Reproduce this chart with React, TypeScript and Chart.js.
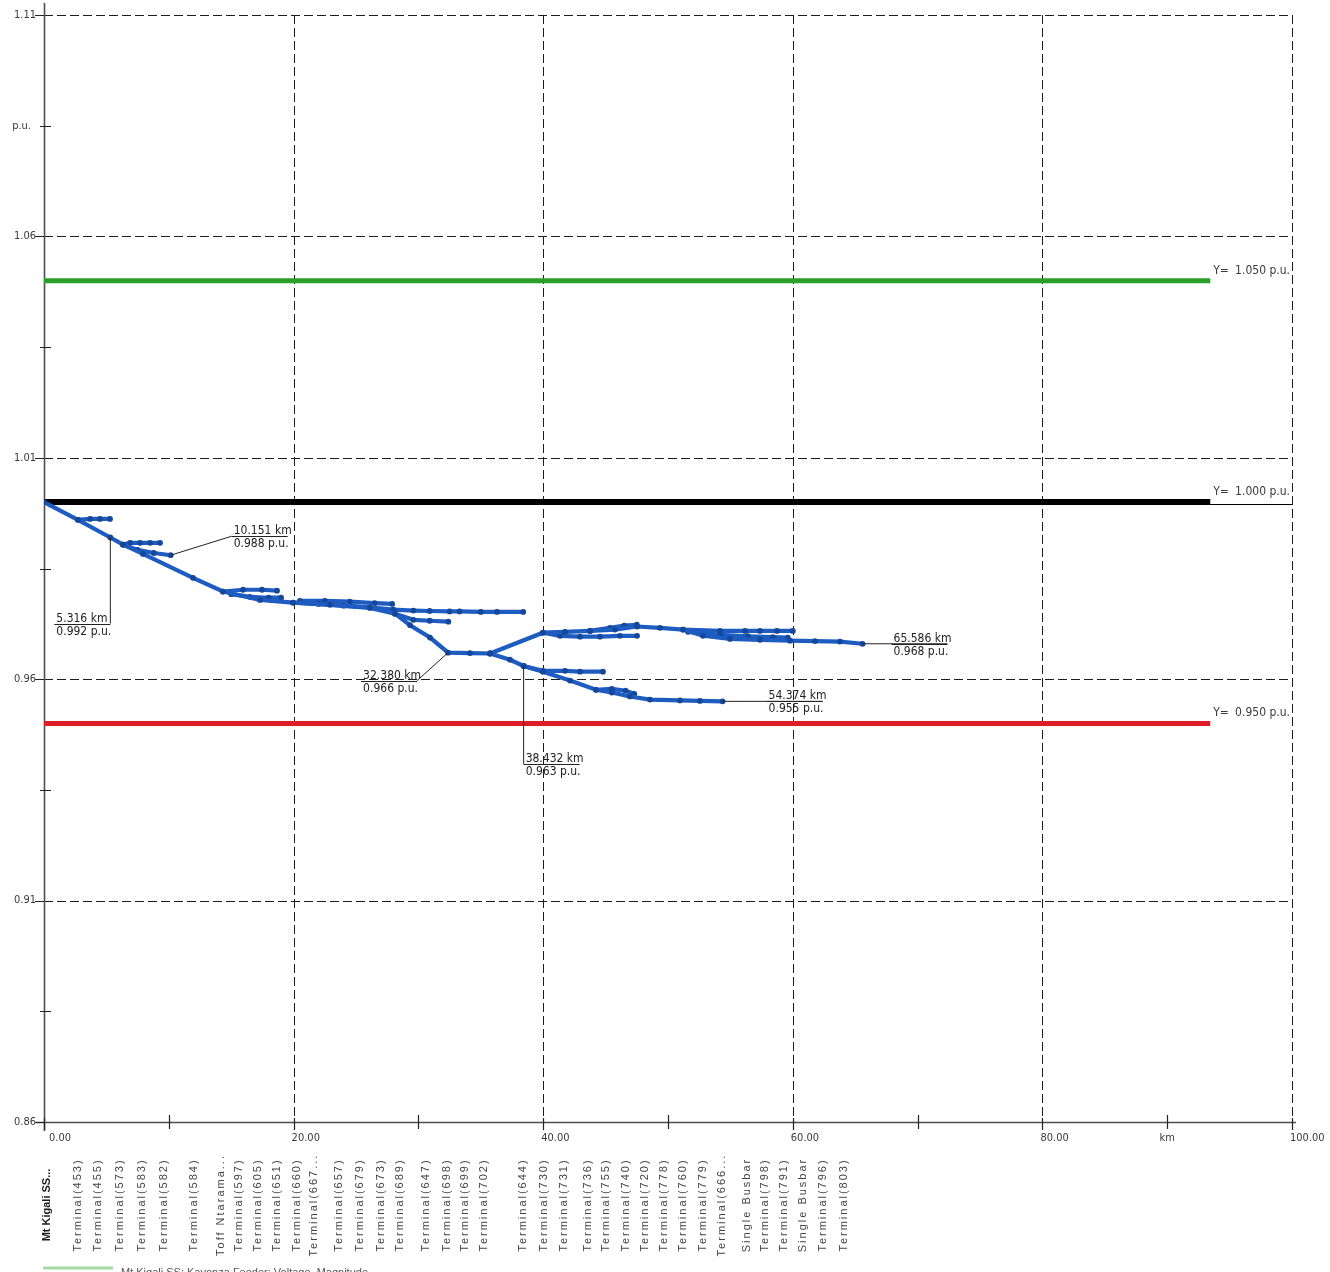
import React, { useEffect, useRef } from 'react';
import { Chart, registerables } from 'chart.js';

Chart.register(...registerables);

type Pt = [number, number];

const W = 1330;
const H = 1272;

// Axis ranges and ticks
const xMin = 0;
const xMax = 100;
const yMin = 0.86;
const yMax = 1.11;
const xMajorTicks = [0, 20, 40, 60, 80, 100];
const xMinorTicks = [10, 30, 50, 70, 90];
const xUnitAt = 90;
const yMajorTicks = [0.86, 0.91, 0.96, 1.01, 1.06, 1.11];
const yMinorTicks = [0.885, 0.935, 0.985, 1.035, 1.085];
const yUnitAt = 1.085;

// Voltage limits drawn as horizontal reference lines
const limitValues = [1.05, 1.0, 0.95];
const limitColors = ['#2aa02a', '#000000', '#dd1e2a'];
const limitWidths = [5, 6, 5];
const limitEndKm = 93.45;

// Feeder sections: [distance from Mt Kigali SS (km), voltage magnitude (p.u.)]
const sectionMain: Pt[] = [
  [0, 1.0], [2.72, 0.996], [5.316, 0.992], [6.33, 0.9904], [7.93, 0.9883],
  [11.94, 0.9829], [14.34, 0.9798], [17.31, 0.9779], [19.95, 0.9773],
  [22.92, 0.9768], [26.12, 0.9761], [28.12, 0.9748], [29.33, 0.9722],
  [30.93, 0.9694], [32.38, 0.966], [34.13, 0.9659], [35.74, 0.9658],
];
const sectionEast: Pt[] = [
  [35.74, 0.9658], [39.98, 0.9705], [41.75, 0.9707], [43.75, 0.9709],
  [45.75, 0.9712], [47.52, 0.9719], [49.36, 0.9716], [51.2, 0.9712],
  [52.8, 0.9698], [54.97, 0.9691], [57.37, 0.9689], [59.78, 0.9687],
  [61.78, 0.9686], [63.78, 0.9685], [65.586, 0.968],
];
const sectionEastSpur: Pt[] = [
  [51.2, 0.9712], [54.17, 0.9709], [56.17, 0.9709], [57.37, 0.9709],
  [58.73, 0.9709], [60.0, 0.9709],
];
const sectionEastMid: Pt[] = [
  [51.6, 0.9707], [54.2, 0.97], [56.4, 0.9697], [58.4, 0.9695], [59.6, 0.9694],
];
const sectionEastLow: Pt[] = [
  [39.98, 0.9705], [41.35, 0.9698], [42.95, 0.9696], [44.55, 0.9696],
  [46.15, 0.9698], [47.52, 0.9698],
];
const sectionEastHigh: Pt[] = [
  [43.75, 0.9709], [45.35, 0.9716], [46.5, 0.9721], [47.5, 0.9723],
];
const sectionSouth: Pt[] = [
  [35.74, 0.9658], [37.34, 0.9644], [38.432, 0.963], [39.98, 0.9617],
  [42.15, 0.9597], [44.23, 0.9576], [45.5, 0.957], [46.95, 0.9561],
  [48.56, 0.9554], [50.96, 0.9552], [52.56, 0.9551], [54.374, 0.955],
];
const sectionSouthSpur: Pt[] = [
  [38.432, 0.963], [39.98, 0.9619], [41.75, 0.9619], [42.95, 0.9617], [44.79, 0.9617],
];
const sectionSouthShort: Pt[] = [
  [44.23, 0.9576], [45.5, 0.9578], [46.6, 0.9574], [47.3, 0.9567],
];
const spurStart: Pt[] = [[2.72, 0.996], [3.7, 0.9962], [4.49, 0.9962], [5.29, 0.9962]];
const spurB: Pt[] = [[6.33, 0.9904], [6.9, 0.9908], [7.7, 0.9908], [8.5, 0.9908], [9.3, 0.9908]];
const spurC: Pt[] = [[6.33, 0.9904], [7.5, 0.9892], [8.8, 0.9885], [10.151, 0.988]];
const spurD: Pt[] = [[14.34, 0.9798], [15.95, 0.9802], [17.47, 0.9802], [18.67, 0.98]];
const spurE: Pt[] = [[15.0, 0.9792], [16.5, 0.9786], [18.0, 0.9784], [19.0, 0.9784]];
const spurF: Pt[] = [
  [19.95, 0.9773], [22.0, 0.977], [24.0, 0.9766], [26.1, 0.9762], [28.0, 0.9757],
  [29.6, 0.9755], [30.9, 0.9754], [32.5, 0.9753], [33.3, 0.9753], [35.0, 0.9752],
  [36.3, 0.9752], [38.4, 0.9752],
];
const spurG: Pt[] = [[28.12, 0.9748], [29.6, 0.9734], [30.9, 0.9732], [32.4, 0.973]];
const spurK: Pt[] = [[20.5, 0.9777], [22.5, 0.9777], [24.5, 0.9775], [26.5, 0.9772], [27.9, 0.977]];

const sections: Pt[][] = [
  sectionMain, sectionEast, sectionEastSpur, sectionEastMid, sectionEastLow, sectionEastHigh,
  sectionSouth, sectionSouthSpur, sectionSouthShort,
  spurStart, spurB, spurC, spurD, spurE, spurF, spurG, spurK,
];

// Marked busbars (distance km, voltage p.u.)
const markedKm = [5.316, 10.151, 32.38, 38.432, 54.374, 65.586];
const markedPu = [0.992, 0.988, 0.966, 0.963, 0.955, 0.968];

// Busbar names along the distance axis
const nodeNames = [
  'Mt Kigali SS...', 'Terminal(453)', 'Terminal(455)', 'Terminal(573)', 'Terminal(583)',
  'Terminal(582)', 'Terminal(584)', 'Toff Ntarama...', 'Terminal(597)', 'Terminal(605)',
  'Terminal(651)', 'Terminal(660)', 'Terminal(667...', 'Terminal(657)', 'Terminal(679)',
  'Terminal(673)', 'Terminal(689)', 'Terminal(647)', 'Terminal(698)', 'Terminal(699)',
  'Terminal(702)', 'Terminal(644)', 'Terminal(730)', 'Terminal(731)', 'Terminal(736)',
  'Terminal(755)', 'Terminal(740)', 'Terminal(720)', 'Terminal(778)', 'Terminal(760)',
  'Terminal(779)', 'Terminal(666...', 'Single Busbar', 'Terminal(798)', 'Terminal(791)',
  'Single Busbar', 'Terminal(796)', 'Terminal(803)',
];
const nodeKm = [
  0.25, 2.72, 4.33, 6.09, 7.85, 9.62, 12.02, 14.18, 15.63, 17.15,
  18.67, 20.27, 21.63, 23.64, 25.32, 27.0, 28.53, 30.61, 32.29, 33.73,
  35.26, 38.38, 40.06, 41.67, 43.59, 45.03, 46.63, 48.16, 49.68, 51.2,
  52.8, 54.33, 56.33, 57.77, 59.3, 60.82, 62.42, 64.1,
];

const legendText = 'Mt Kigali SS: Kayonza Feeder: Voltage, Magnitude';

const BLUE = '#1d5cc0';
const DOT = '#17479a';
const NARROW = '"Liberation Sans Narrow", "DejaVu Sans Condensed", "Liberation Sans", sans-serif';
const SANS = '"Liberation Sans", Arial, sans-serif';

const snap = (v: number) => Math.round(v) + 0.5;

const decorPlugin = {
  id: 'profileDecor',
  beforeDatasetsDraw(chart: any) {
    const { ctx } = chart;
    const xs = chart.scales.x;
    const ys = chart.scales.y;
    const x0 = xs.getPixelForValue(xMin);
    const x1 = xs.getPixelForValue(xMax);
    const yb = ys.getPixelForValue(yMin);
    const yt = ys.getPixelForValue(yMax);
    ctx.save();
    // dashed grid
    ctx.strokeStyle = '#1c1c1c';
    ctx.lineWidth = 1;
    ctx.setLineDash([9, 4]);
    yMajorTicks.forEach((v) => {
      if (v === yMin) return;
      const yy = snap(ys.getPixelForValue(v));
      ctx.beginPath();
      ctx.moveTo(x0, yy);
      ctx.lineTo(x1, yy);
      ctx.stroke();
    });
    xMajorTicks.forEach((v) => {
      if (v === xMin) return;
      const xx = snap(xs.getPixelForValue(v));
      ctx.beginPath();
      ctx.moveTo(xx, yt);
      ctx.lineTo(xx, yb);
      ctx.stroke();
    });
    ctx.setLineDash([]);
    // axes
    ctx.strokeStyle = '#4d4d4d';
    ctx.lineWidth = 1.6;
    ctx.beginPath();
    ctx.moveTo(snap(x0), yt - 12);
    ctx.lineTo(snap(x0), yb + 9);
    ctx.moveTo(x0 - 8, snap(yb));
    ctx.lineTo(x1 + 4, snap(yb));
    ctx.stroke();
    // ticks
    ctx.strokeStyle = '#222';
    ctx.lineWidth = 1.2;
    ctx.beginPath();
    yMajorTicks.forEach((v) => {
      const yy = snap(ys.getPixelForValue(v));
      ctx.moveTo(x0 - 9, yy);
      ctx.lineTo(x0, yy);
    });
    yMinorTicks.forEach((v) => {
      const yy = snap(ys.getPixelForValue(v));
      ctx.moveTo(x0 - 4, yy);
      ctx.lineTo(x0 + 7, yy);
    });
    xMajorTicks.forEach((v) => {
      const xx = snap(xs.getPixelForValue(v));
      ctx.moveTo(xx, yb - 4);
      ctx.lineTo(xx, yb + 8);
    });
    xMinorTicks.forEach((v) => {
      const xx = snap(xs.getPixelForValue(v));
      ctx.moveTo(xx, yb - 7);
      ctx.lineTo(xx, yb + 7);
    });
    ctx.stroke();
    ctx.restore();
  },
  afterDatasetsDraw(chart: any) {
    const { ctx } = chart;
    const xs = chart.scales.x;
    const ys = chart.scales.y;
    const x0 = xs.getPixelForValue(xMin);
    const x1 = xs.getPixelForValue(xMax);
    const yb = ys.getPixelForValue(yMin);
    ctx.save();
    ctx.fillStyle = '#3a3a3a';
    ctx.font = `11px ${NARROW}`;
    // y tick labels
    ctx.textAlign = 'right';
    ctx.textBaseline = 'middle';
    yMajorTicks.forEach((v) => {
      ctx.fillText(v.toFixed(2), x0 - 8, ys.getPixelForValue(v));
    });
    ctx.fillText('p.u.', x0 - 13, ys.getPixelForValue(yUnitAt));
    // x tick labels
    ctx.textAlign = 'left';
    xMajorTicks.forEach((v) => {
      const xx = xs.getPixelForValue(v);
      ctx.fillText(v.toFixed(2), v === xMin ? xx + 5 : xx - 2, yb + 16);
    });
    ctx.textAlign = 'center';
    ctx.fillText('km', xs.getPixelForValue(xUnitAt), yb + 16);

    // limit labels
    limitValues.forEach((v, i) => {
      const yy = ys.getPixelForValue(v);
      const xe = xs.getPixelForValue(limitEndKm);
      ctx.textBaseline = 'alphabetic';
      ctx.fillStyle = '#3a3a3a';
      ctx.font = `12px ${NARROW}`;
      ctx.textAlign = 'left';
      ctx.fillText('Y=', xe + 3, yy - 7);
      ctx.textAlign = 'right';
      ctx.fillText(`${v.toFixed(3)} p.u.`, x1 - 2, yy - 7);
      if (i === 1) {
        ctx.strokeStyle = '#000';
        ctx.lineWidth = 1;
        ctx.beginPath();
        ctx.moveTo(xe, snap(yy + 2));
        ctx.lineTo(x1, snap(yy + 2));
        ctx.stroke();
      }
    });

    // marked busbars
    const layout = [
      { dx: 0, dy: 86, side: 'left' },
      { dx: 61, dy: -19, side: 'right' },
      { dx: -31, dy: 28, side: 'left' },
      { dx: 0, dy: 98, side: 'right' },
      { dx: 100, dy: 0, side: 'left' },
      { dx: 85, dy: 0, side: 'left' },
    ];
    markedKm.forEach((km, i) => {
      const px = xs.getPixelForValue(km);
      const py = ys.getPixelForValue(markedPu[i]);
      const l = layout[i];
      const ex = px + l.dx;
      const ey = py + l.dy;
      const len = 56;
      const ux0 = l.side === 'left' ? ex - len : ex;
      const ux1 = l.side === 'left' ? ex : ex + len;
      ctx.strokeStyle = '#222';
      ctx.lineWidth = 1;
      ctx.beginPath();
      ctx.moveTo(px, py);
      ctx.lineTo(ex, ey);
      ctx.moveTo(ux0, snap(ey));
      ctx.lineTo(ux1, snap(ey));
      ctx.stroke();
      ctx.fillStyle = '#222';
      ctx.font = `12px ${NARROW}`;
      ctx.textAlign = 'left';
      ctx.textBaseline = 'alphabetic';
      ctx.fillText(`${km.toFixed(3)} km`, ux0 + 2, ey - 2);
      ctx.textBaseline = 'top';
      ctx.fillText(`${markedPu[i].toFixed(3)} p.u.`, ux0 + 2, ey + 2);
    });

    // busbar names below the distance axis
    nodeNames.forEach((name, i) => {
      const xx = xs.getPixelForValue(nodeKm[i]);
      ctx.save();
      ctx.translate(xx, 1205);
      ctx.rotate(-Math.PI / 2);
      ctx.textAlign = 'center';
      ctx.textBaseline = 'middle';
      if (i === 0) {
        ctx.font = `bold 11px ${SANS}`;
        ctx.fillStyle = '#1a1a1a';
      } else {
        ctx.font = `11px ${SANS}`;
        (ctx as any).letterSpacing = '2px';
        ctx.fillStyle = '#444';
      }
      ctx.fillText(name, 0, 0);
      ctx.restore();
    });

    // legend
    ctx.strokeStyle = '#a6dba6';
    ctx.lineWidth = 3;
    ctx.beginPath();
    ctx.moveTo(43, 1268);
    ctx.lineTo(113, 1268);
    ctx.stroke();
    ctx.fillStyle = '#555';
    ctx.font = `11px ${SANS}`;
    ctx.textAlign = 'left';
    ctx.textBaseline = 'alphabetic';
    ctx.fillText(legendText, 121, 1276);
    ctx.restore();
  },
};

export default function App() {
  const ref = useRef<HTMLCanvasElement>(null);

  useEffect(() => {
    const canvas = ref.current;
    if (!canvas) return;

    const feederSets = sections.map((s) => ({
      data: s.map(([x, y]) => ({ x, y })),
      borderColor: BLUE,
      backgroundColor: BLUE,
      borderWidth: 4.2,
      pointRadius: 2.9,
      pointBackgroundColor: DOT,
      pointBorderWidth: 0,
      tension: 0,
      fill: false,
    }));
    const limitSets = limitValues.map((v, i) => ({
      data: [{ x: xMin, y: v }, { x: limitEndKm, y: v }],
      borderColor: limitColors[i],
      backgroundColor: limitColors[i],
      borderWidth: limitWidths[i],
      pointRadius: 0,
      borderCapStyle: 'butt' as const,
      fill: false,
    }));

    const chart = new Chart(canvas, {
      type: 'line',
      data: { datasets: [...feederSets, ...limitSets] as any },
      options: {
        responsive: false,
        maintainAspectRatio: false,
        animation: false,
        layout: { padding: { left: 44, right: 38, top: 15, bottom: 150 } },
        scales: {
          x: { type: 'linear', min: xMin, max: xMax, display: false },
          y: { type: 'linear', min: yMin, max: yMax, display: false },
        },
        plugins: {
          legend: { display: false },
          tooltip: { enabled: false },
        },
      },
      plugins: [decorPlugin],
    });
    return () => chart.destroy();
  }, []);

  return (
    <div style={{ position: 'absolute', left: 0, top: 0, width: W, height: H, background: '#fff', overflow: 'hidden' }}>
      <canvas ref={ref} width={W} height={H} style={{ display: 'block', width: W, height: H }} />
    </div>
  );
}
